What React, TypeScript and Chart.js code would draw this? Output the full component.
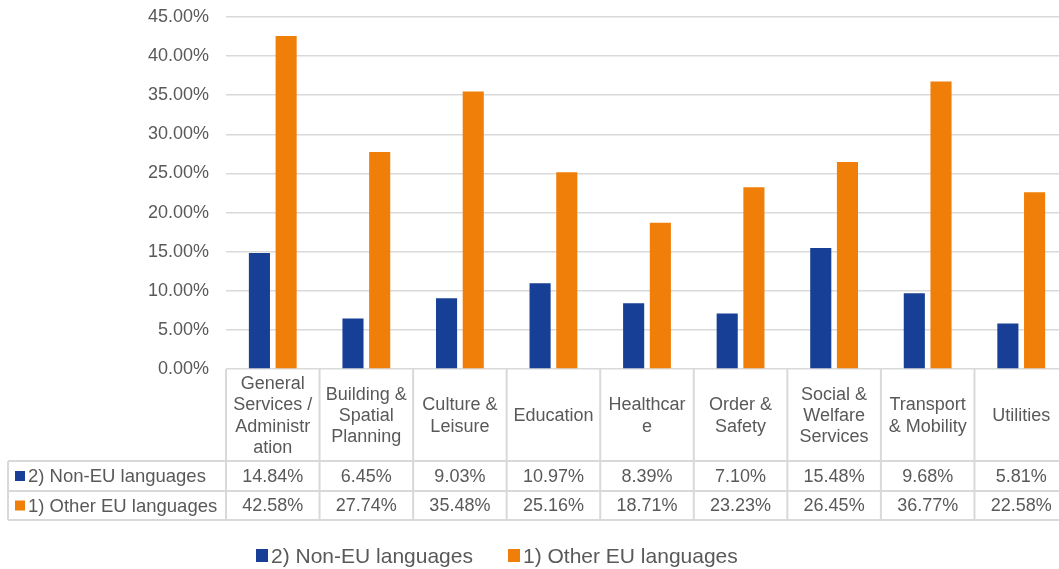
import React, { useEffect, useRef } from "react";
import { Chart, registerables } from "chart.js";

Chart.register(...registerables);

const categoryLines: string[][] = [
  ["General", "Services /", "Administr", "ation"],
  ["Building &", "Spatial", "Planning"],
  ["Culture &", "Leisure"],
  ["Education"],
  ["Healthcar", "e"],
  ["Order &", "Safety"],
  ["Social &", "Welfare", "Services"],
  ["Transport", "& Mobility"],
  ["Utilities"],
];
const categories = categoryLines.map((l) => l.join(" "));

const seriesNames = ["2) Non-EU languages", "1) Other EU languages"];
const nonEU = [14.84, 6.45, 9.03, 10.97, 8.39, 7.1, 15.48, 9.68, 5.81];
const otherEU = [42.58, 27.74, 35.48, 25.16, 18.71, 23.23, 26.45, 36.77, 22.58];
const seriesColors = ["#173F95", "#F07F09"];

const yMax = 45;
const yStep = 5;

const FONT = '"Liberation Sans", Arial, sans-serif';
const TEXT = "#595959";
const GRID = "#d9d9d9";

const fmt = (v: number) => v.toFixed(2) + "%";

const tablePlugin = {
  id: "dataTable",
  afterDraw(chart: any) {
    const ctx = chart.ctx as CanvasRenderingContext2D;
    const area = chart.chartArea;
    const xs = chart.scales.x;
    const n = categories.length;
    const cw = (area.right - area.left) / n;
    const top = area.bottom;
    const headerBottom = top + 92;
    const row1Bottom = headerBottom + 30;
    const row2Bottom = row1Bottom + 29;
    const leftX = 8;

    ctx.save();
    ctx.strokeStyle = GRID;
    ctx.lineWidth = 2;
    ctx.beginPath();
    [headerBottom, row1Bottom, row2Bottom].forEach((y) => {
      ctx.moveTo(leftX, y);
      ctx.lineTo(chart.width, y);
    });
    for (let i = 0; i <= n; i++) {
      const x = area.left + i * cw;
      ctx.moveTo(x, top);
      ctx.lineTo(x, row2Bottom);
    }
    ctx.moveTo(leftX, headerBottom);
    ctx.lineTo(leftX, row2Bottom);
    ctx.stroke();

    ctx.fillStyle = TEXT;
    ctx.font = `18px ${FONT}`;
    ctx.textAlign = "center";
    ctx.textBaseline = "middle";
    const lh = 21.3;
    const hc = (top + headerBottom) / 2;
    categoryLines.forEach((lines, i) => {
      const cx = xs.getPixelForValue(i);
      const y0 = hc - ((lines.length - 1) * lh) / 2;
      lines.forEach((t, j) => ctx.fillText(t, cx, y0 + j * lh + 1));
    });

    const rows = [nonEU, otherEU];
    const rowCenters = [(headerBottom + row1Bottom) / 2, (row1Bottom + row2Bottom) / 2];
    rows.forEach((vals, r) => {
      const cy = rowCenters[r] + 1;
      ctx.font = `18px ${FONT}`;
      ctx.textAlign = "center";
      ctx.fillStyle = TEXT;
      vals.forEach((v, i) => ctx.fillText(fmt(v), xs.getPixelForValue(i), cy));
      ctx.fillStyle = seriesColors[r];
      ctx.fillRect(15, cy - 6, 10, 10);
      ctx.fillStyle = TEXT;
      ctx.textAlign = "left";
      ctx.font = `18.5px ${FONT}`;
      ctx.fillText(seriesNames[r], 28, cy);
    });

    ctx.font = `21px ${FONT}`;
    ctx.textAlign = "left";
    const ly = 556;
    const lx = [256, 508];
    seriesNames.forEach((name, r) => {
      ctx.fillStyle = seriesColors[r];
      ctx.fillRect(lx[r], ly - 7, 12, 13);
      ctx.fillStyle = TEXT;
      ctx.fillText(name, lx[r] + 15, ly + 1);
    });
    ctx.restore();
  },
};

export default function App() {
  const ref = useRef<HTMLCanvasElement>(null);
  useEffect(() => {
    if (!ref.current) return;
    Chart.defaults.font.family = FONT;
    const chart = new Chart(ref.current, {
      type: "bar",
      data: {
        labels: categories,
        datasets: [
          {
            label: seriesNames[0],
            data: nonEU,
            backgroundColor: seriesColors[0],
            categoryPercentage: 0.571,
            barPercentage: 0.79,
          },
          {
            label: seriesNames[1],
            data: otherEU,
            backgroundColor: seriesColors[1],
            categoryPercentage: 0.571,
            barPercentage: 0.79,
          },
        ],
      },
      options: {
        responsive: false,
        animation: false,
        layout: { padding: { top: 17, bottom: 200, left: 0, right: 0 } },
        plugins: { legend: { display: false }, tooltip: { enabled: false } },
        scales: {
          x: { display: false },
          y: {
            min: 0,
            max: yMax,
            border: { display: false },
            grid: { color: GRID, lineWidth: 1.5, drawTicks: false },
            ticks: {
              stepSize: yStep,
              padding: 17,
              color: TEXT,
              font: { size: 18, family: FONT },
              callback: (v: any) => fmt(Number(v)),
            },
            afterFit: (s: any) => {
              s.width = 226;
              s.paddingTop = 0;
              s.paddingBottom = 0;
            },
          },
        },
      },
      plugins: [tablePlugin],
    });
    return () => chart.destroy();
  }, []);
  return (
    <div
      style={{
        position: "fixed",
        left: 0,
        top: 0,
        width: 1059,
        height: 569,
        overflow: "hidden",
        background: "#fff",
      }}
    >
      <canvas ref={ref} width={1068} height={569} style={{ display: "block" }} />
    </div>
  );
}
